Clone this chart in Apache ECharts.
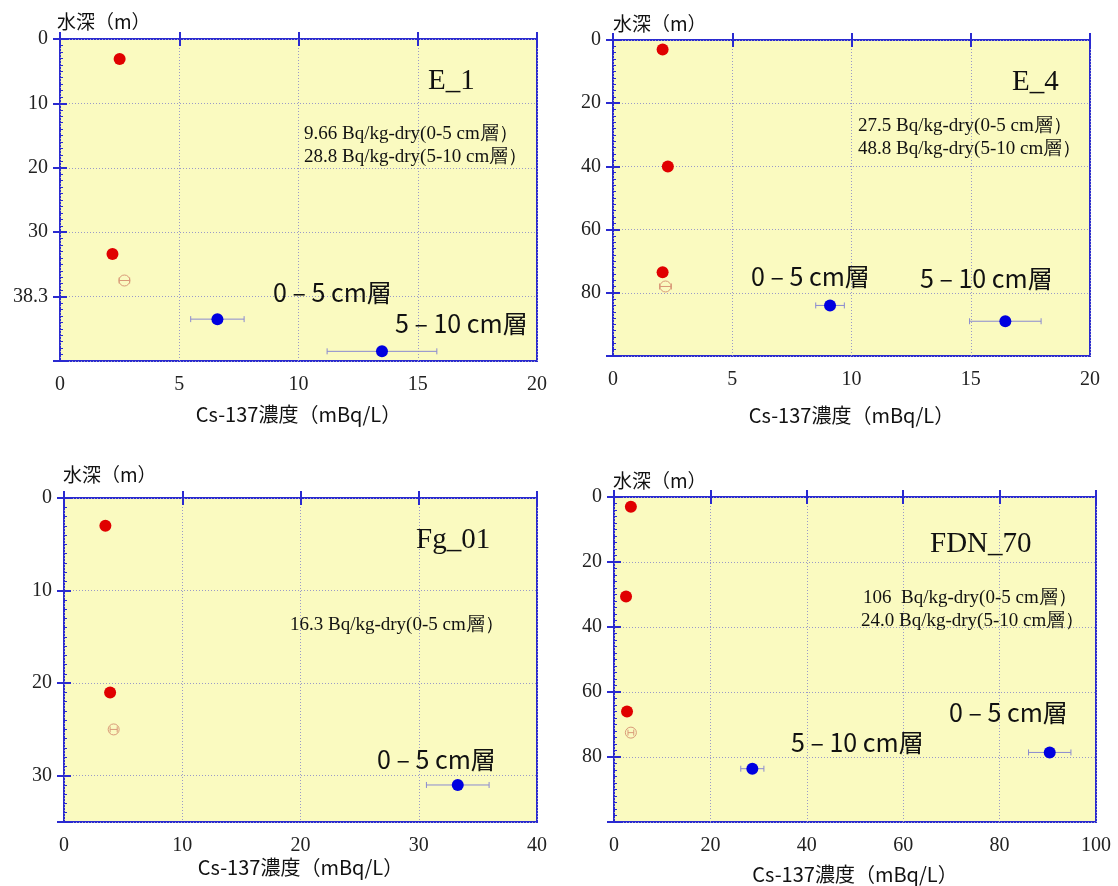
<!DOCTYPE html>
<html><head><meta charset="utf-8">
<script src="https://cdn.jsdelivr.net/npm/echarts@6/dist/echarts.min.js"></script>
<style>html,body{margin:0;padding:0;background:#fff}#c{width:1118px;height:886px}</style>
</head><body><div id="c"></div>
<script>
// ---- data: [Cs-137 (mBq/L), depth (m), error (mBq/L)] ----
const e1Water = [[2.5, 3.1, 0.15], [2.2, 33.4, 0.12]];
const e1Bottom = [[2.7, 37.5, 0.22]];
const e1Sediment = [[6.6, 43.5, 1.12], [13.5, 48.5, 2.3]];

const e4Water = [[2.08, 3.0, 0.12], [2.3, 40.0, 0.1], [2.08, 73.5, 0.1]];
const e4Bottom = [[2.2, 78.0, 0.25]];
const e4Sediment = [[9.1, 84.0, 0.6], [16.45, 89.0, 1.5]];

const fgWater = [[3.5, 3.0, 0.2], [3.9, 21.0, 0.2]];
const fgBottom = [[4.2, 25.0, 0.3]];
const fgSediment = [[33.3, 31.0, 2.65]];

const fdWater = [[3.5, 3.0, 0.4], [2.5, 30.6, 0.4], [2.7, 66.0, 0.4]];
const fdBottom = [[3.5, 72.5, 0.6]];
const fdSediment = [[28.7, 83.6, 2.4], [90.4, 78.6, 4.4]];

// ---- tick labels ----
const e1YLabels = ['0', '10', '20', '30', '38.3'];
const e4YLabels = ['0', '20', '40', '60', '80'];
const fgYLabels = ['0', '10', '20', '30'];
const fdYLabels = ['0', '20', '40', '60', '80'];

const stationNames = ['E_1', 'E_4', 'Fg_01', 'FDN_70'];
const infoTexts = [
  ['9.66 Bq/kg-dry(0-5 cm層）', '28.8 Bq/kg-dry(5-10 cm層）'],
  ['27.5 Bq/kg-dry(0-5 cm層）', '48.8 Bq/kg-dry(5-10 cm層）'],
  ['16.3 Bq/kg-dry(0-5 cm層）'],
  ['106  Bq/kg-dry(0-5 cm層）', '24.0 Bq/kg-dry(5-10 cm層）']
];
const layer05 = '0 – 5 cm層';
const layer510 = '5 – 10 cm層';
const xName = 'Cs-137濃度（mBq/L）';
const yName = '水深（m）';

// ---- layout ----
const SERIF = '"Liberation Serif","Times New Roman",serif';
const SANS = '"Noto Sans CJK JP","Noto Sans",sans-serif';
const FRAME = '#2a2ad0';
const BG = '#fafac0';

const panels = [
  {grid: {left: 60, top: 39, width: 477, height: 322}, xMax: 20, xInt: 5, yMax: 50, yInt: 10, yLabels: e1YLabels, nameGap: 43,
   water: e1Water, bottom: e1Bottom, sed: e1Sediment},
  {grid: {left: 613, top: 40, width: 477, height: 316}, xMax: 20, xInt: 5, yMax: 100, yInt: 20, yLabels: e4YLabels, nameGap: 49,
   water: e4Water, bottom: e4Bottom, sed: e4Sediment},
  {grid: {left: 64, top: 498, width: 473, height: 324}, xMax: 40, xInt: 10, yMax: 35, yInt: 10, yLabels: fgYLabels, nameGap: 35,
   water: fgWater, bottom: fgBottom, sed: fgSediment},
  {grid: {left: 614, top: 497, width: 482, height: 325}, xMax: 100, xInt: 20, yMax: 100, yInt: 20, yLabels: fdYLabels, nameGap: 42,
   water: fdWater, bottom: fdBottom, sed: fdSediment}
];

function errBar(color, cap) {
  return function (params, api) {
    const x = api.value(0), y = api.value(1), e = api.value(2);
    const a = api.coord([x - e, y]), b = api.coord([x + e, y]);
    const st = {stroke: color, lineWidth: 1};
    return {type: 'group', children: [
      {type: 'line', shape: {x1: a[0], y1: a[1], x2: b[0], y2: b[1]}, style: st},
      {type: 'line', shape: {x1: a[0], y1: a[1] - cap, x2: a[0], y2: a[1] + cap}, style: st},
      {type: 'line', shape: {x1: b[0], y1: b[1] - cap, x2: b[0], y2: b[1] + cap}, style: st}
    ]};
  };
}

const grid = [], xAxis = [], yAxis = [], series = [];
panels.forEach((p, i) => {
  grid.push(Object.assign({show: true, backgroundColor: BG, borderColor: FRAME, borderWidth: 2, containLabel: false}, p.grid));
  const tick = {show: true, inside: true, length: 7, lineStyle: {color: FRAME, width: 2}};
  const split = {show: true, lineStyle: {color: '#9a9ac8', type: [1, 2], width: 1}};
  xAxis.push({gridIndex: i, type: 'value', min: 0, max: p.xMax, interval: p.xInt, position: 'bottom',
    axisLine: {show: false}, axisTick: tick, splitLine: split,
    axisLabel: {margin: 14, fontFamily: SERIF, fontSize: 20, color: '#222'},
    name: xName, nameLocation: 'middle', nameGap: p.nameGap,
    nameTextStyle: {fontFamily: SANS, fontSize: 20, color: '#111'}});
  xAxis.push({gridIndex: i, type: 'value', min: 0, max: p.xMax, interval: p.xInt, position: 'top',
    axisLine: {show: false}, axisTick: tick, splitLine: {show: false}, axisLabel: {show: false}});
  yAxis.push({gridIndex: i, type: 'value', inverse: true, min: 0, max: p.yMax, interval: p.yInt, position: 'left',
    axisLine: {show: false}, axisTick: tick, splitLine: split,
    minorTick: {show: true, splitNumber: 10, length: 3, lineStyle: {color: FRAME, width: 1}},
    axisLabel: {margin: 12, fontFamily: SERIF, fontSize: 20, color: '#222', showMaxLabel: false,
      formatter: (v) => { const k = Math.round(v / p.yInt); return (Math.abs(v - k * p.yInt) < 1e-9 && p.yLabels[k] !== undefined) ? p.yLabels[k] : ''; }}});
  yAxis.push({gridIndex: i, type: 'value', inverse: true, min: 0, max: p.yMax, interval: p.yInt, position: 'right',
    axisLine: {show: false}, axisTick: tick, splitLine: {show: false}, axisLabel: {show: false}});

  const xi = i * 2, yi = i * 2;
  series.push({type: 'custom', xAxisIndex: xi, yAxisIndex: yi, renderItem: errBar('#e0907a', 3), data: p.water, z: 2, silent: true});
  series.push({type: 'custom', xAxisIndex: xi, yAxisIndex: yi, renderItem: errBar('#d99a78', 3), data: p.bottom, z: 4, silent: true});
  series.push({type: 'custom', xAxisIndex: xi, yAxisIndex: yi, renderItem: errBar('#8a8ad0', 3), data: p.sed, z: 2, silent: true});
  series.push({type: 'scatter', xAxisIndex: xi, yAxisIndex: yi, data: p.water, symbol: 'circle', symbolSize: 12,
    itemStyle: {color: '#e00000', opacity: 1}, z: 3, silent: true});
  series.push({type: 'scatter', xAxisIndex: xi, yAxisIndex: yi, data: p.bottom, symbol: 'circle', symbolSize: 11,
    itemStyle: {color: 'rgba(0,0,0,0)', borderColor: '#d99a78', borderWidth: 1, opacity: 1}, z: 3, silent: true});
  series.push({type: 'scatter', xAxisIndex: xi, yAxisIndex: yi, data: p.sed, symbol: 'circle', symbolSize: 12,
    itemStyle: {color: '#0000e0', opacity: 1}, z: 3, silent: true});
});

function txt(x, y, text, font, size) {
  return {type: 'text', x: x, y: y, z: 100,
    style: {text: text, fontFamily: font, fontSize: size, fill: '#111', align: 'left', verticalAlign: 'middle'}};
}

const graphic = [
  txt(57, 22, yName, SANS, 19), txt(613, 24, yName, SANS, 19),
  txt(63, 475, yName, SANS, 19), txt(613, 481, yName, SANS, 19),
  txt(428, 81, stationNames[0], SERIF, 29), txt(1012, 82, stationNames[1], SERIF, 29),
  txt(416, 540, stationNames[2], SERIF, 29), txt(930, 544, stationNames[3], SERIF, 29),
  txt(304, 134, infoTexts[0][0], SERIF, 19), txt(304, 157, infoTexts[0][1], SERIF, 19),
  txt(858, 126, infoTexts[1][0], SERIF, 19), txt(858, 149, infoTexts[1][1], SERIF, 19),
  txt(290, 625, infoTexts[2][0], SERIF, 19),
  txt(863, 598, infoTexts[3][0], SERIF, 19), txt(861, 621, infoTexts[3][1], SERIF, 19),
  txt(273, 292, layer05, SANS, 25), txt(395, 323, layer510, SANS, 25),
  txt(751, 276, layer05, SANS, 25), txt(920, 278, layer510, SANS, 25),
  txt(377, 759, layer05, SANS, 25),
  txt(949, 712, layer05, SANS, 25), txt(791, 742, layer510, SANS, 25)
];

const chart = echarts.init(document.getElementById('c'), null, {renderer: 'canvas'});
chart.setOption({animation: false, backgroundColor: '#fff', grid, xAxis, yAxis, series, graphic});
</script></body></html>
